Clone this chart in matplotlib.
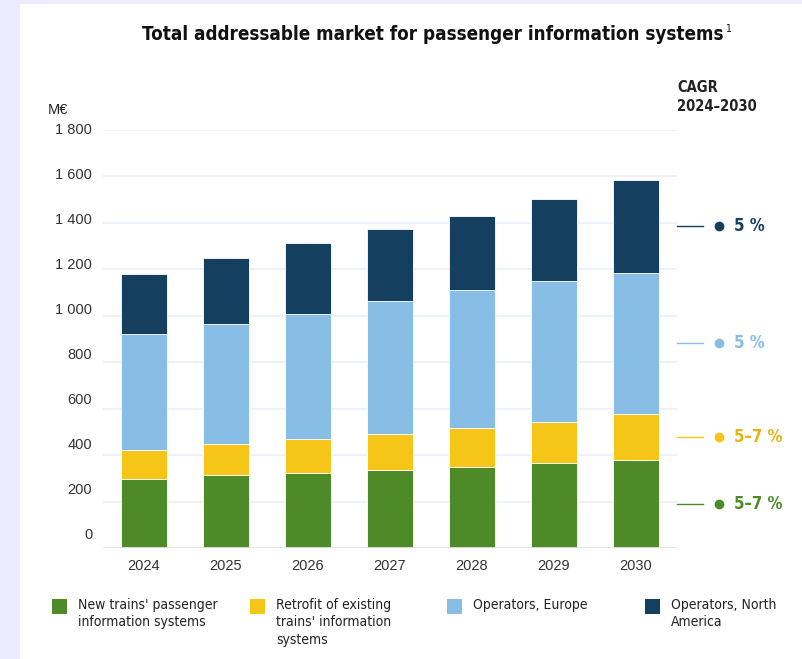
import matplotlib
matplotlib.use("Agg")
import matplotlib.pyplot as plt
from matplotlib.patches import Rectangle
import numpy as np

years = ["2024", "2025", "2026", "2027", "2028", "2029", "2030"]
new_trains = [297, 313, 323, 335, 350, 365, 379]
retrofit = [125, 134, 145, 157, 168, 179, 197]
europe = [499, 518, 540, 573, 592, 606, 610]
north_america = [260, 285, 304, 307, 321, 352, 399]

series_names = [
    "New trains' passenger\ninformation systems",
    "Retrofit of existing\ntrains' information\nsystems",
    "Operators, Europe",
    "Operators, North\nAmerica",
]
cagr_labels = ["5–7 %", "5–7 %", "5 %", "5 %"]
colors = ["#4e8a27", "#f5c518", "#88bee5", "#143f5f"]
cagr_text_colors = ["#4e8a27", "#e6b310", "#88bee5", "#143f5f"]

y_ticks = [0, 200, 400, 600, 800, 1000, 1200, 1400, 1600, 1800]
y_tick_labels = ["0", "200", "400", "600", "800", "1 000", "1 200", "1 400", "1 600", "1 800"]

NARROW = dict(family=["DejaVu Sans"], fontstretch="condensed")
REG = ["Liberation Sans", "DejaVu Sans"]

W, H = 802, 659
fig = plt.figure(figsize=(W / 100, H / 100), dpi=100)
fig.patch.set_facecolor("#ebebfd")
fig.add_artist(Rectangle((20 / W, 0), 1, 1 - 4 / H, transform=fig.transFigure,
                         facecolor="white", edgecolor="none", zorder=-10))

# axes placed in pixels
left, right, top, base = 103, 677, 130, 548
ax = fig.add_axes([left / W, (H - base) / H, (right - left) / W, (base - top) / H])
ax.set_facecolor("none")

data = [new_trains, retrofit, europe, north_america]
x = np.arange(len(years))
bottom = np.zeros(len(years))
for vals, c in zip(data, colors):
    ax.bar(x, vals, width=0.55, bottom=bottom, color=c, edgecolor="white",
           linewidth=0.6, zorder=3)
    bottom += np.array(vals)

ax.set_xlim(-0.5, 6.5)
ax.set_ylim(0, 1800)
for v in y_ticks[1:]:
    ax.axhline(v, color="#edf1fa", lw=1.5, zorder=1)
ax.axhline(0, color="#e3e3e3", lw=2, zorder=4)

ax.set_yticks([])
for v, lab in zip(y_ticks, y_tick_labels):
    ax.text(-0.63, 56 + v * 0.969, lab, ha="right", va="center", fontsize=10.5,
            family=REG, color="#333333")

ax.set_xticks(x)
ax.set_xticklabels(years, fontsize=10.5, family=REG, color="#333333")
ax.tick_params(axis="x", length=0, pad=8)
for s in ax.spines.values():
    s.set_visible(False)

# CAGR markers at midpoints of 2030 segments
cum = 0
for vals, c, tc, lab in zip(data, colors, cagr_text_colors, cagr_labels):
    mid = cum + vals[-1] / 2
    cum += vals[-1]
    ax.plot([6.5, 6.82], [mid, mid], color=c, lw=1, clip_on=False)
    ax.plot([7.01], [mid], "o", color=c, ms=6, clip_on=False)
    ax.text(7.2, mid, lab, color=tc, fontsize=12, fontweight="bold",
            ha="left", va="center", **NARROW)

fig.text(677 / W, 1 - 80 / H, "CAGR\n2024–2030", fontsize=10.5, fontweight="bold",
         ha="left", va="top", color="#222222", linespacing=1.3, **NARROW)
fig.text(48 / W, 1 - 110 / H, "M€", fontsize=10.5, family=REG, ha="left",
         va="center", color="#222222")

title = fig.text(433 / W, 1 - 34 / H, "Total addressable market for passenger information systems",
                 fontsize=13.5, fontweight="bold", ha="center",
                 va="center", color="#111111", **NARROW)
fig.canvas.draw()
bb = title.get_window_extent()
fig.text((bb.x1 + 1) / W, (bb.y1 + 1) / H, "1", fontsize=7.5,
         ha="left", va="top", color="#111111", **NARROW)

# legend
leg_x = [52, 250, 447, 645]
for lx, c, name in zip(leg_x, colors, series_names):
    fig.add_artist(Rectangle((lx / W, 1 - 614 / H), 15 / W, 15 / H,
                             transform=fig.transFigure, facecolor=c, edgecolor="none"))
    fig.text((lx + 26) / W, 1 - 598 / H, name, fontsize=10,
             ha="left", va="top", color="#222222", linespacing=1.3, **NARROW)

fig.savefig("out.png", dpi=100, facecolor=fig.get_facecolor())
